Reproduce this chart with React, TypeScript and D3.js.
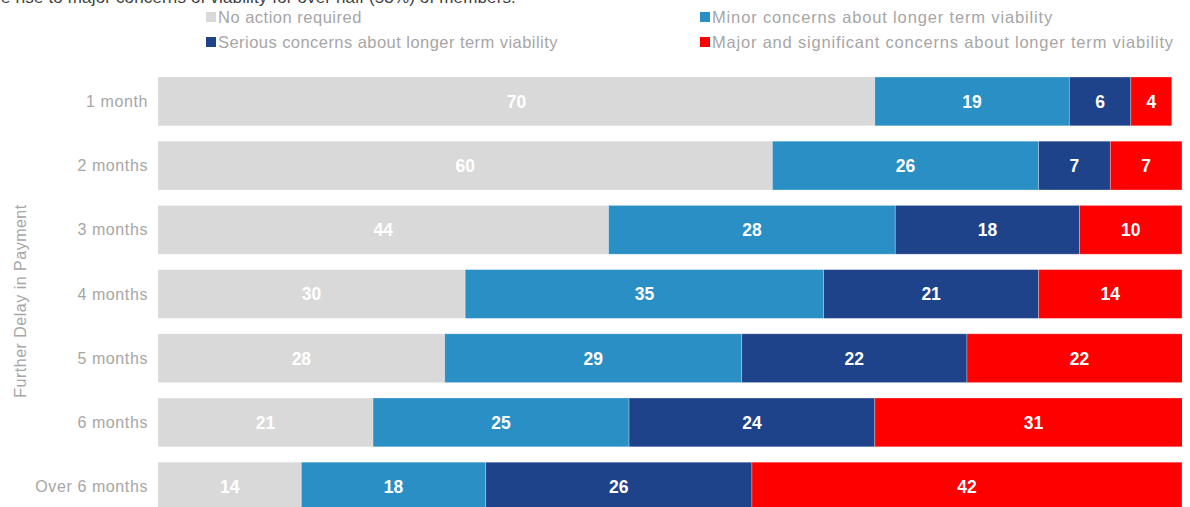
import React from "react";
import * as d3 from "d3";

const categories = ["1 month", "2 months", "3 months", "4 months", "5 months", "6 months", "Over 6 months"];
const seriesNames = [
  "No action required",
  "Minor concerns about longer term viability",
  "Serious concerns about longer term viability",
  "Major and significant concerns about longer term viability",
];
const noAction = [70, 60, 44, 30, 28, 21, 14];
const minor = [19, 26, 28, 35, 29, 25, 18];
const serious = [6, 7, 18, 21, 22, 24, 26];
const major = [4, 7, 10, 14, 22, 31, 42];
const colors = ["#d9d9d9", "#2a8fc4", "#1f438b", "#ff0000"];
const titleText = "give rise to major concerns of viability for over half (53%) of members.";
const yAxisTitle = "Further Delay in Payment";

const W = 1190;
const H = 507;
const FONT = "'Liberation Sans', Arial, sans-serif";
const GRAY = "#a6a6a6";

export default function App() {
  const series = [noAction, minor, serious, major];
  const rows = categories.map((c, i) => {
    const r: any = { cat: c };
    series.forEach((s, k) => (r["s" + k] = s[i]));
    return r;
  });
  const stack = d3.stack<any>().keys(["s0", "s1", "s2", "s3"]);
  const stacked = stack(rows);

  const x = d3.scaleLinear().domain([0, 100]).range([158, 1182]);
  const y = d3
    .scaleBand()
    .domain(categories)
    .range([69.3, 518.7])
    .paddingInner(0.24)
    .paddingOuter(0.12);

  const legendPos = [
    { x: 206, y: 17 },
    { x: 700, y: 17 },
    { x: 206, y: 42 },
    { x: 700, y: 42 },
  ];
  const legendSpacing = [0.5, 0.85, 0.45, 0.8];

  return (
    <div style={{ position: "absolute", left: 0, top: 0, width: W, height: H, overflow: "hidden" }}>
      <svg width={W} height={H} style={{ display: "block", fontFamily: FONT }}>
        <defs>
          <clipPath id="plotClip">
            <rect x={x(0)} y={0} width={x(100) - x(0)} height={H} />
          </clipPath>
        </defs>
        <rect x={0} y={0} width={W} height={H} fill="#ffffff" />
        <text x={516} y={3} textAnchor="end" fontSize={17} letterSpacing={0.15} fill="#404040">
          {titleText}
        </text>
        {seriesNames.map((n, k) => (
          <g key={n}>
            <rect x={legendPos[k].x} y={legendPos[k].y - 5} width={10} height={10} fill={colors[k]} />
            <text
              x={legendPos[k].x + 12}
              y={legendPos[k].y}
              dy="0.35em"
              fontSize={16.5}
              letterSpacing={legendSpacing[k]}
              fill={GRAY}
            >
              {n}
            </text>
          </g>
        ))}
        <text
          transform={`translate(20,${301}) rotate(-90)`}
          textAnchor="middle"
          dy="0.35em"
          fontSize={16}
          letterSpacing={0.5}
          fill={GRAY}
        >
          {yAxisTitle}
        </text>
        {categories.map((c) => (
          <text
            key={c}
            x={148}
            y={(y(c) as number) + y.bandwidth() / 2}
            dy="0.35em"
            textAnchor="end"
            fontSize={16}
            letterSpacing={0.6}
            fill={GRAY}
          >
            {c}
          </text>
        ))}
        <g clipPath="url(#plotClip)">
          {stacked.map((layer, k) => (
            <g key={layer.key}>
              {layer.map((d: any, i: number) => {
                const x0 = x(d[0]);
                const x1 = x(d[1]);
                const yy = y(categories[i]) as number;
                return (
                  <rect
                    key={i}
                    x={x0}
                    y={yy}
                    width={x1 - x0}
                    height={y.bandwidth()}
                    fill={colors[k]}
                    stroke="#ffffff"
                    strokeOpacity={0.35}
                    strokeWidth={0.8}
                  />
                );
              })}
            </g>
          ))}
        </g>
        {stacked.map((layer, k) => (
          <g key={"l" + layer.key}>
            {layer.map((d: any, i: number) => {
              const x0 = x(d[0]);
              const x1 = x(d[1]);
              const yy = y(categories[i]) as number;
              return (
                <text
                  key={i}
                  x={(x0 + x1) / 2}
                  y={yy + y.bandwidth() / 2}
                  dy="0.36em"
                  textAnchor="middle"
                  fontSize={17.5}
                  fontWeight="bold"
                  fill="#ffffff"
                >
                  {Math.round(d[1] - d[0])}
                </text>
              );
            })}
          </g>
        ))}
      </svg>
    </div>
  );
}
